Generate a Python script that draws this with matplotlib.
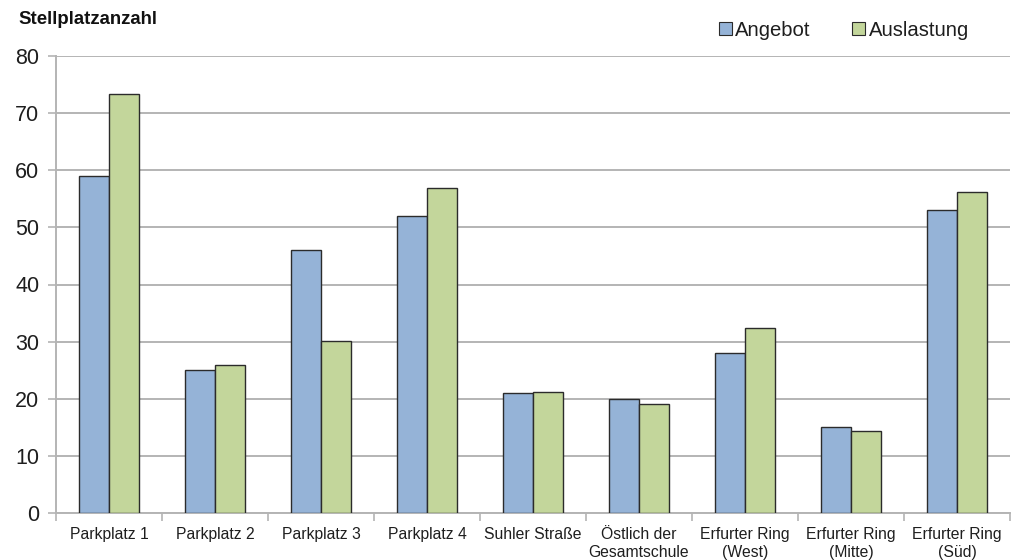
import matplotlib
matplotlib.use("Agg")
import matplotlib.pyplot as plt
import numpy as np
from matplotlib.patches import Patch

categories = ["Parkplatz 1", "Parkplatz 2", "Parkplatz 3", "Parkplatz 4",
              "Suhler Straße", "Östlich der\nGesamtschule", "Erfurter Ring\n(West)",
              "Erfurter Ring\n(Mitte)", "Erfurter Ring\n(Süd)"]
angebot = [59, 25, 46, 52, 21, 20, 28, 15, 53]
auslastung = [73.3, 25.9, 30.1, 56.9, 21.2, 19.1, 32.3, 14.3, 56.2]
series_names = ["Angebot", "Auslastung"]
y_ticks = [0, 10, 20, 30, 40, 50, 60, 70, 80]

plt.rcParams["font.family"] = ["Liberation Sans", "DejaVu Sans"]

blue = "#95B3D7"
green = "#C3D69B"
edge = "#2b2b2b"
grid_col = "#b4b4b4"
text_col = "#1e1e1e"

fig = plt.figure(figsize=(10.22, 5.6), dpi=100)
ax = fig.add_axes([56 / 1022, 47 / 560, 954 / 1022, 457 / 560])

x = np.arange(len(categories))
w = 0.285
ax.bar(x - w / 2, angebot, width=w, color=blue, edgecolor=edge, linewidth=1.0, zorder=3)
ax.bar(x + w / 2, auslastung, width=w, color=green, edgecolor=edge, linewidth=1.0, zorder=3)

ax.set_xlim(-0.5, len(categories) - 0.5)
ax.set_ylim(0, 80)
ax.set_yticks(y_ticks)
ax.set_yticklabels([str(v) for v in y_ticks], fontsize=15.5, color=text_col)
ax.yaxis.grid(True, color=grid_col, linewidth=1.4, zorder=0)
ax.tick_params(axis="y", length=6, width=1.2, color=grid_col, pad=6)

ax.set_xticks(x)
ax.set_xticklabels(categories, fontsize=11.3, color=text_col, linespacing=1.3)
ax.tick_params(axis="x", length=0, pad=10)
ax.set_xticks(np.arange(-0.5, len(categories)), minor=True)
ax.tick_params(axis="x", which="minor", length=6, width=1.2, color=grid_col)

for s in ["top", "right"]:
    ax.spines[s].set_visible(False)
for s in ["left", "bottom"]:
    ax.spines[s].set_color(grid_col)
    ax.spines[s].set_linewidth(1.4)

fig.text(18 / 1022, 1 - 20 / 560, "Stellplatzanzahl", fontsize=13.4, fontweight="bold",
         va="center", ha="left", color="#111111")

handles = [Patch(facecolor=blue, edgecolor=edge, linewidth=0.8),
           Patch(facecolor=green, edgecolor=edge, linewidth=0.8)]
fig.legend(handles, series_names, loc="center left", bbox_to_anchor=(719 / 1022, 1 - 30 / 560),
           ncol=2, frameon=False, fontsize=14.6, handlelength=0.65, handleheight=0.65,
           handletextpad=0.15, columnspacing=2.05, borderaxespad=0, borderpad=0,
           labelcolor=text_col)

fig.savefig("out.png", dpi=100)
